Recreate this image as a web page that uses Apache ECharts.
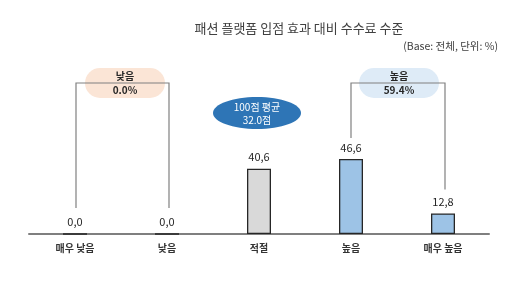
<!DOCTYPE html>
<html><head><meta charset="utf-8">
<script src="https://cdn.jsdelivr.net/npm/echarts@6/dist/echarts.min.js"></script>
<style>html,body{margin:0;padding:0;background:#fff}#c{width:512px;height:299px}</style>
</head><body><div id="c"></div>
<script>
const categories = ['매우 낮음', '낮음', '적절', '높음', '매우 높음'];
const values = [0.0, 0.0, 40.6, 46.6, 12.8];
const barColors = ['#D9D9D9', '#D9D9D9', '#D9D9D9', '#9DC3E6', '#9DC3E6'];
const lowGroup = { title: '낮음', value: '0.0%' };
const highGroup = { title: '높음', value: '59.4%' };
const avgLabel = ['100점 평균', '32.0점'];
const titleText = '패션 플랫폼 입점 효과 대비 수수료 수준';
const subText = '(Base: 전체, 단위: %)';

const FONT = '"Noto Sans CJK KR", "Noto Sans", sans-serif';
const chart = echarts.init(document.getElementById('c'));
const fmt = v => v.toFixed(1).replace('.', ',');

chart.setOption({
  animation: false,
  backgroundColor: '#fff',
  title: [
    { text: titleText, left: 294, top: 17, textAlign: 'center',
      textStyle: { fontFamily: FONT, fontSize: 13, fontWeight: 'normal', color: '#404040' } },
    { text: subText, right: 9, top: 36,
      textStyle: { fontFamily: FONT, fontSize: 10.5, fontWeight: 'normal', color: '#404040' } }
  ],
  grid: { left: 29, right: 23, top: 73, bottom: 65 },
  xAxis: {
    type: 'category', data: categories,
    axisLine: { lineStyle: { color: '#7F7F7F', width: 2 } },
    axisTick: { show: false },
    axisLabel: { fontFamily: FONT, fontSize: 10, fontWeight: 'bold', color: '#333', margin: 9 }
  },
  yAxis: { type: 'value', min: 0, max: 100, show: false, splitLine: { show: false } },
  series: [{
    type: 'bar', barWidth: 24,
    data: values.map((v, i) => ({ value: v, itemStyle: { color: barColors[i], borderColor: '#262626', borderWidth: 1.3 } })),
    label: { show: true, position: 'top', distance: 6, formatter: p => fmt(p.value),
      fontFamily: FONT, fontSize: 11, color: '#262626' }
  }]
});

function px(i, v) { return chart.convertToPixel({ xAxisIndex: 0, yAxisIndex: 0 }, [i, v]); }
const lineStyle = { stroke: '#808080', lineWidth: 1.2, fill: null };
const topY = 83;
const p0 = px(0, 0), p1 = px(1, 0), p3 = px(3, values[3]), p4 = px(4, values[4]);
const labelGap = 26;
function bracket(xa, ya, xb, yb) {
  return { type: 'polyline', shape: { points: [[xa, ya], [xa, topY], [xb, topY], [xb, yb]] }, style: lineStyle, z: 1 };
}
function pill(cx, color, g) {
  return { type: 'group', z: 5, children: [
    { type: 'rect', shape: { x: cx - 40, y: 68, width: 80, height: 30, r: 15 }, style: { fill: color } },
    { type: 'text', x: cx, y: 76, style: { text: g.title, fontFamily: FONT, fontSize: 10, fontWeight: 'bold', fill: '#262626', align: 'center', verticalAlign: 'middle' } },
    { type: 'text', x: cx, y: 90, style: { text: g.value, fontFamily: FONT, fontSize: 10, fontWeight: 'bold', fill: '#262626', align: 'center', verticalAlign: 'middle' } }
  ]};
}
const p2 = px(2, 0);
chart.setOption({
  graphic: [
    bracket(p0[0] + 1, p0[1] - labelGap, p1[0] + 2, p1[1] - labelGap),
    bracket(p3[0], p3[1] - 21, p4[0] + 2, p4[1] - 24),
    pill((p0[0] + p1[0]) / 2 + 4, '#FBE5D6', lowGroup),
    pill((p3[0] + p4[0]) / 2 + 2, '#DEEBF7', highGroup),
    { type: 'group', z: 5, children: [
      { type: 'ellipse', shape: { cx: p2[0] - 2, cy: 113, rx: 44, ry: 16 }, style: { fill: '#2E75B6' } },
      { type: 'text', x: p2[0] - 2, y: 107, style: { text: avgLabel[0], fontFamily: FONT, fontSize: 10, fill: '#fff', align: 'center', verticalAlign: 'middle' } },
      { type: 'text', x: p2[0] - 2, y: 120, style: { text: avgLabel[1], fontFamily: FONT, fontSize: 10, fill: '#fff', align: 'center', verticalAlign: 'middle' } }
    ]}
  ]
});
</script></body></html>
